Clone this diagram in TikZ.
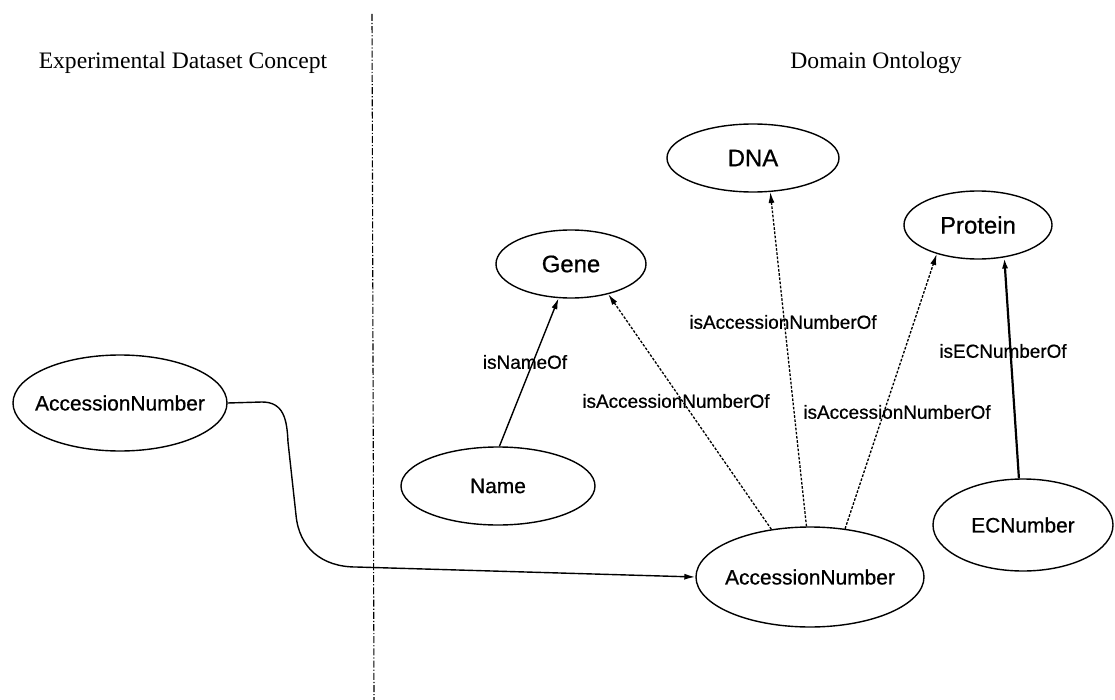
\documentclass[tikz,border=0pt]{standalone}
\usepackage{fontspec}
\setmainfont{Liberation Serif}
\newfontface\arialfont{Liberation Sans}[FakeBold=0.7]
\usetikzlibrary{shapes.geometric,arrows.meta}

\tikzset{
  concept/.style={ellipse, draw=black, line width=1.4bp, inner sep=0pt, fill=white},
  small/.style={font=\arialfont\fontsize{21}{24}\selectfont},
  big/.style={font=\arialfont\fontsize{24}{28}\selectfont},
  rel/.style={font=\arialfont\fontsize{19}{22}\selectfont, inner sep=0pt},
  header/.style={font=\fontsize{23.7}{28}\selectfont, inner sep=0pt},
  tip/.style={-{Latex[length=11bp,width=6bp]}},
  solidrel/.style={tip, line width=1.4bp},
  dottedrel/.style={tip, line width=1.3bp, dash pattern=on 2.6bp off 1.6bp},
  divider/.style={line width=1.1bp, dash pattern=on 7bp off 2bp on 1.2bp off 2bp}
}

\begin{document}
\begin{tikzpicture}[x=1bp,y=-1bp]
\useasboundingbox[fill=white] (0,0) rectangle (1115,700);

% section headers and the dividing line
\node[header] (hleft) at (183,63) {Experimental Dataset Concept};
\node[header] (hright) at (876,63) {Domain Ontology};
\coordinate (dtop) at (372,14);
\coordinate (dbot) at (374,700);
\draw[divider] (dtop) -- (dbot);

% concepts
\node[concept, small, minimum width=214bp, minimum height=96bp] (lan) at (120,403) {\makebox[0pt]{AccessionNumber}};
\node[concept, big, minimum width=172bp, minimum height=68bp] (dna) at (753,158) {\makebox[0pt]{DNA}};
\node[concept, big, minimum width=150bp, minimum height=68bp] (gene) at (571,264) {\makebox[0pt]{Gene}};
\node[concept, big, minimum width=148bp, minimum height=68bp] (prot) at (978,225) {\makebox[0pt]{Protein}};
\node[concept, small, minimum width=194bp, minimum height=78bp] (name) at (498,486) {\makebox[0pt]{Name}};
\node[concept, small, minimum width=228bp, minimum height=100bp] (ran) at (810,577) {\makebox[0pt]{AccessionNumber}};
\node[concept, small, minimum width=180bp, minimum height=92bp] (ecn) at (1023,525) {\makebox[0pt]{ECNumber}};

% relations inside the ontology
\draw[solidrel] (name.88) -- (gene.250);
\draw[dottedrel] (ran.129) -- (gene.321);
\draw[dottedrel] (ran.94) -- (dna.297);
\draw[dottedrel] (ran.54) -- (prot.215);
\draw[tip, line width=2.2bp] (ecn.95) -- (prot.309);

% relation labels
\node[rel] (lname) at (525,362) {isNameOf};
\node[rel] (lgene) at (676,401) {isAccessionNumberOf};
\node[rel] (ldna) at (783,322) {isAccessionNumberOf};
\node[rel] (lprot) at (897,412) {isAccessionNumberOf};
\node[rel] (lec) at (1003,351) {isECNumberOf};

% mapping from the dataset concept into the ontology
\draw[solidrel] (lan.east) -- (262,402)
  .. controls (284,402) and (287,420) .. (288,442)
  -- (296,515)
  .. controls (299,548) and (322,567) .. (356,567)
  -- (ran.west);
\end{tikzpicture}
\end{document}
